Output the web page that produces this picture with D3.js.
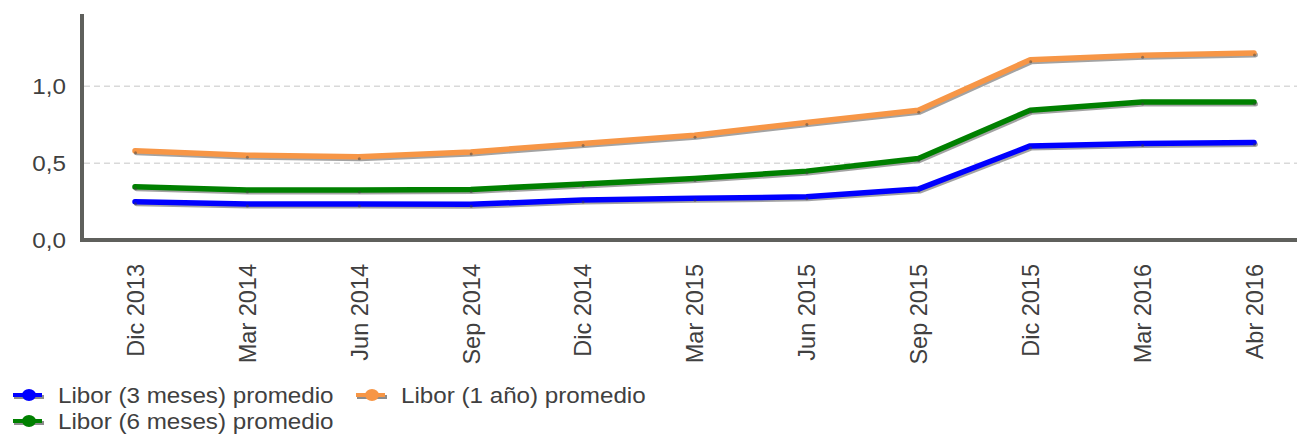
<!DOCTYPE html>
<html><head><meta charset="utf-8">
<script src="https://cdn.jsdelivr.net/npm/d3@7"></script>
<style>body{margin:0;background:#fff}svg{display:block}text{font-family:"Liberation Sans",Arial,sans-serif;fill:#404040}</style>
</head><body>
<svg id="c" width="1297" height="435"></svg>
<script>
const categories = ["Dic 2013","Mar 2014","Jun 2014","Sep 2014","Dic 2014","Mar 2015","Jun 2015","Sep 2015","Dic 2015","Mar 2016","Abr 2016"];
const libor3m = [0.249,0.234,0.234,0.232,0.260,0.271,0.281,0.331,0.612,0.628,0.634];
const libor6m = [0.346,0.325,0.325,0.329,0.364,0.400,0.448,0.530,0.844,0.898,0.898];
const libor1y = [0.580,0.552,0.541,0.573,0.628,0.682,0.764,0.844,1.173,1.201,1.216];
const yTicks = [0, 0.5, 1.0];
const yTickLabels = ["0,0","0,5","1,0"];
const seriesNames = ["Libor (3 meses) promedio","Libor (6 meses) promedio","Libor (1 año) promedio"];
const seriesColors = ["#0000ff","#008000","#f79646"];

const series = [
  {name: seriesNames[0], values: libor3m, color: seriesColors[0]},
  {name: seriesNames[1], values: libor6m, color: seriesColors[1]},
  {name: seriesNames[2], values: libor1y, color: seriesColors[2]}
];

const K = 1.1; // horizontal text stretch
const FS = "22px";
const svg = d3.select("#c");
const x = d3.scalePoint().domain(categories).range([135, 1254]);
const y = d3.scaleLinear().domain([0, 1.47]).range([240, 14]);

// gridlines
svg.append("g").selectAll("line").data(yTicks.filter(d => d > 0)).join("line")
  .attr("x1", 84).attr("x2", 1297)
  .attr("y1", d => y(d)).attr("y2", d => y(d))
  .attr("stroke", "#d9d9d9").attr("stroke-width", 1.5).attr("stroke-dasharray", "6,4");

// y labels
svg.append("g").selectAll("text").data(yTicks).join("text")
  .attr("transform", d => `translate(66,${y(d)}) scale(${K},1)`)
  .attr("text-anchor", "end").attr("dy", "0.36em")
  .style("font-size", FS)
  .text((d, i) => yTickLabels[i]);

// axes lines
svg.append("line").attr("x1", 82).attr("x2", 82).attr("y1", y(1.47)).attr("y2", y(0) + 2)
  .attr("stroke", "#5f605c").attr("stroke-width", 4);
svg.append("line").attr("x1", 80).attr("x2", 1297).attr("y1", y(0)).attr("y2", y(0))
  .attr("stroke", "#5f605c").attr("stroke-width", 4);

// x labels
svg.append("g").selectAll("text").data(categories).join("text")
  .attr("transform", d => `translate(${x(d)},264) scale(1.05,1) rotate(-90)`)
  .attr("text-anchor", "end").attr("dy", "0.36em")
  .style("font-size", "23.5px")
  .text(d => d);

const line = d3.line().x((d, i) => x(categories[i])).y(d => y(d));

// shadows
svg.append("g").selectAll("path").data(series).join("path")
  .attr("d", s => line(s.values))
  .attr("transform", "translate(1.5,2)")
  .attr("fill", "none").attr("stroke", "#8c8c8c").attr("stroke-opacity", 0.8)
  .attr("stroke-width", 5).attr("stroke-linecap", "round").attr("stroke-linejoin", "round");

// lines
svg.append("g").selectAll("path").data(series).join("path")
  .attr("d", s => line(s.values))
  .attr("fill", "none").attr("stroke", s => s.color)
  .attr("stroke-width", 5.5).attr("stroke-linecap", "round").attr("stroke-linejoin", "round");

// tiny vertex markers
series.forEach(s => {
  svg.append("g").selectAll("circle").data(s.values).join("circle")
    .attr("cx", (d, i) => x(categories[i]) + 0.5).attr("cy", d => y(d) + 2)
    .attr("r", 1.5).attr("fill", "#404040").attr("fill-opacity", 0.5);
});

// legend
const legendItems = [
  {s: series[0], lx: 13, ty: 395},
  {s: series[2], lx: 356, ty: 395},
  {s: series[1], lx: 13, ty: 421}
];
const lg = svg.append("g");
legendItems.forEach(it => {
  const g = lg.append("g");
  g.append("line").attr("x1", it.lx + 1).attr("x2", it.lx + 31).attr("y1", it.ty + 2).attr("y2", it.ty + 2)
    .attr("stroke", "#8c8c8c").attr("stroke-width", 4);
  g.append("line").attr("x1", it.lx).attr("x2", it.lx + 29).attr("y1", it.ty).attr("y2", it.ty)
    .attr("stroke", it.s.color).attr("stroke-width", 4);
  g.append("ellipse").attr("cx", it.lx + 16).attr("cy", it.ty).attr("rx", 7).attr("ry", 6)
    .attr("fill", it.s.color);
  g.append("text").attr("transform", `translate(${it.lx + 45},${it.ty}) scale(${K},1)`)
    .attr("dy", "0.36em").style("font-size", FS).text(it.s.name);
});
</script>
</body></html>
